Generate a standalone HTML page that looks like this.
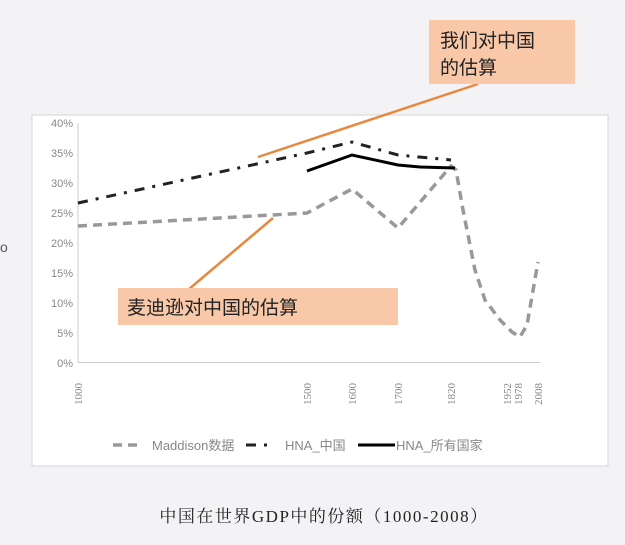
<!DOCTYPE html>
<html><head><meta charset="utf-8"><style>
body{margin:0;background:#f3f3f5;width:625px;height:545px;overflow:hidden;font-family:"Liberation Sans","Noto Sans CJK SC",sans-serif}
</style></head><body>
<svg width="625" height="545" xmlns="http://www.w3.org/2000/svg" style="position:absolute;left:0;top:0">
<rect x="32" y="115" width="576" height="351" fill="#fff" stroke="#d6d6d6"/>
<text x="0" y="252" font-size="14" fill="#555">o</text>
<g font-size="11" fill="#888" text-anchor="end" font-family="Liberation Sans,sans-serif">
<text x="73" y="127">40%</text><text x="73" y="157">35%</text><text x="73" y="187">30%</text><text x="73" y="217">25%</text><text x="73" y="247">20%</text><text x="73" y="277">15%</text><text x="73" y="307">10%</text><text x="73" y="337">5%</text><text x="73" y="367">0%</text>
</g>
<line x1="78" y1="123" x2="78" y2="363" stroke="#ccc"/>
<line x1="78" y1="362.5" x2="540" y2="362.5" stroke="#ccc"/>
<g font-size="11" fill="#888" font-family="Liberation Serif,serif">
<text transform="translate(82,405) rotate(-90)">1000</text>
<text transform="translate(311,405) rotate(-90)">1500</text>
<text transform="translate(356,405) rotate(-90)">1600</text>
<text transform="translate(402,405) rotate(-90)">1700</text>
<text transform="translate(455,405) rotate(-90)">1820</text>
<text transform="translate(511,405) rotate(-90)">1952</text>
<text transform="translate(522,405) rotate(-90)">1978</text>
<text transform="translate(542,405) rotate(-90)">2008</text>
</g>
<polyline fill="none" stroke="#999" stroke-width="3.5" stroke-dasharray="9,6" points="78,226 307,213 352,189 398,228 451,166 456,170 463,210 475,270 485,300 500,320 512,332 520,337 527,325 538,262"/>
<polyline fill="none" stroke="#222" stroke-width="3" stroke-dasharray="10,8,3,8" points="78,203 307,153 352,142 398,155 451,160"/>
<polyline fill="none" stroke="#000" stroke-width="3" points="307,171 352,155 398,165 420,167 455,168"/>
<line x1="478" y1="84" x2="258" y2="157" stroke="#e8873e" stroke-width="2.5"/>
<line x1="182" y1="295" x2="273" y2="218" stroke="#e8873e" stroke-width="2.5"/>
<rect x="429" y="20" width="146" height="64" fill="#f8c8a8"/>
<text x="440" y="47" font-size="19" fill="#222">我们对中国</text>
<text x="440" y="74" font-size="19" fill="#222">的估算</text>
<rect x="118" y="288" width="280" height="37" fill="#f8c8a8"/>
<text x="127" y="314" font-size="19" fill="#222">麦迪逊对中国的估算</text>
<g font-size="13" fill="#888">
<line x1="113" y1="445" x2="143" y2="445" stroke="#999" stroke-width="3.5" stroke-dasharray="9,6"/>
<text x="152" y="450">Maddison数据</text>
<line x1="246" y1="445" x2="275" y2="445" stroke="#222" stroke-width="3" stroke-dasharray="10,8,3,8"/>
<text x="285" y="450">HNA_中国</text>
<line x1="358" y1="445" x2="395" y2="445" stroke="#000" stroke-width="3"/>
<text x="396" y="450">HNA_所有国家</text>
</g>
<text x="324" y="522" font-size="17" fill="#222" text-anchor="middle" letter-spacing="1.5" font-family="Liberation Serif,Noto Serif CJK SC,serif">中国在世界GDP中的份额（1000-2008）</text>
</svg>
</body></html>
